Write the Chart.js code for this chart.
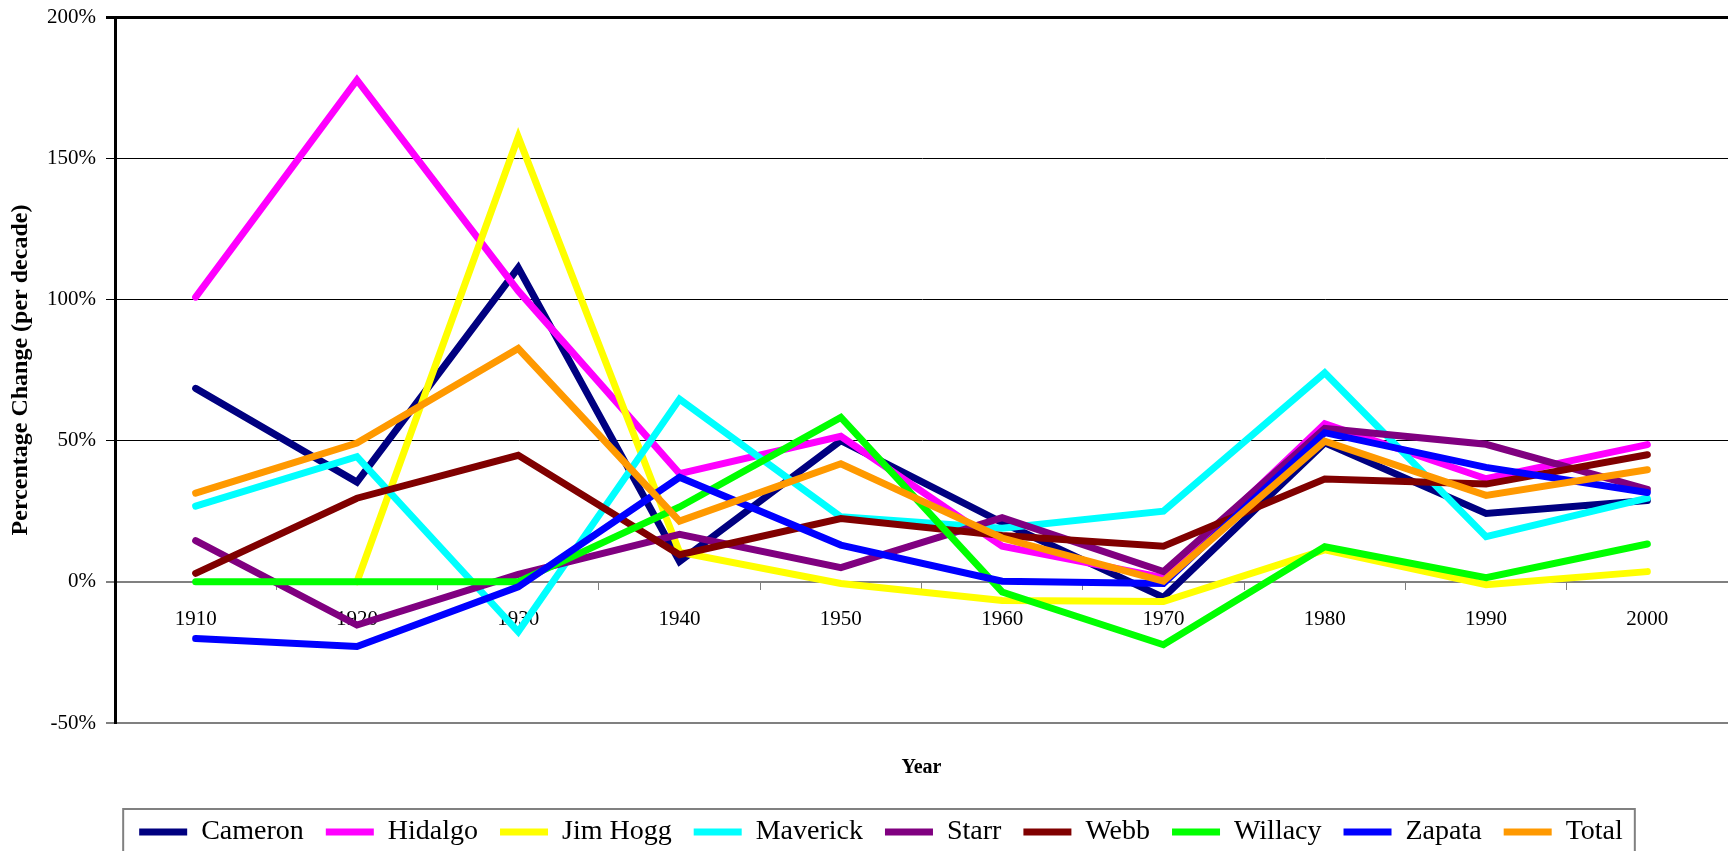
<!DOCTYPE html>
<html>
<head>
<meta charset="utf-8">
<script src="https://cdn.jsdelivr.net/npm/chart.js@4/dist/chart.umd.min.js"></script>
<style>
  html, body { margin: 0; padding: 0; background: #ffffff; overflow: hidden; }
  #wrap { width: 1728px; height: 851px; }
</style>
</head>
<body>
<div id="wrap"><canvas id="c" width="1728" height="851"></canvas></div>
<script>
// ---- data (percentage change per decade) ----
const years    = ['1910','1920','1930','1940','1950','1960','1970','1980','1990','2000'];
const cameron  = [68.5, 35.3, 111.2, 7.2, 50.0, 21.0, -5.5, 49.2, 24.2, 28.8];
const hidalgo  = [100.8, 177.7, 103.0, 38.3, 51.5, 12.6, 1.5, 56.0, 36.5, 48.6];
const jimHogg  = [null, 0.0, 157.5, 10.5, -0.6, -6.6, -7.0, 11.3, -1.0, 3.6];
const maverick = [26.8, 44.3, -17.7, 64.7, 23.0, 19.0, 25.0, 74.0, 16.0, 29.6];
const starr    = [14.6, -15.3, 2.6, 16.8, 5.0, 22.7, 3.6, 54.3, 48.7, 32.7];
const webb     = [3.0, 29.6, 44.8, 9.6, 22.4, 16.4, 12.6, 36.4, 34.6, 45.0];
const willacy  = [0.0, 0.0, 0.0, 26.5, 58.2, -3.6, -22.3, 12.4, 1.5, 13.4];
const zapata   = [-20.1, -22.9, -1.8, 37.0, 13.0, 0.2, -0.6, 52.8, 40.5, 31.6];
const total    = [31.4, 49.1, 82.6, 21.5, 41.8, 15.5, 0.2, 49.8, 30.6, 39.7];
const yTicks   = [-50, 0, 50, 100, 150, 200];

const seriesNames  = ['Cameron','Hidalgo','Jim Hogg','Maverick','Starr','Webb','Willacy','Zapata','Total'];
const seriesData   = [cameron, hidalgo, jimHogg, maverick, starr, webb, willacy, zapata, total];
const seriesColors = ['#000080','#FF00FF','#FFFF00','#00FFFF','#800080','#800000','#00FF00','#0000FF','#FF9900'];

const FONT = "'Liberation Serif', 'Times New Roman', serif";

const datasets = seriesNames.map((name, i) => ({
  label: name,
  data: seriesData[i],
  borderColor: seriesColors[i],
  backgroundColor: seriesColors[i],
  borderWidth: 7,
  borderCapStyle: 'round',
  borderJoinStyle: 'miter',
  pointRadius: 0,
  pointHoverRadius: 0,
  pointStyle: 'line',
  tension: 0,
  fill: false,
  spanGaps: false,
  order: seriesNames.length - 1 - i
}));

const legendFrame = {
  id: 'legendFrame',
  afterDraw(chart) {
    const lg = chart.legend;
    if (!lg || !lg.legendHitBoxes || !lg.legendHitBoxes.length) return;
    const hb = lg.legendHitBoxes;
    const first = hb[0], last = hb[hb.length - 1];
    const cy = first.top + first.height / 2;
    const left = first.left - 16;
    const right = last.left + last.width + 12;
    const top = cy - 23;
    const ctx = chart.ctx;
    ctx.save();
    ctx.strokeStyle = '#808080';
    ctx.lineWidth = 2;
    ctx.beginPath();
    ctx.moveTo(left, chart.height + 10);
    ctx.lineTo(left, top);
    ctx.lineTo(right, top);
    ctx.lineTo(right, chart.height + 10);
    ctx.stroke();
    ctx.restore();
  }
};

new Chart(document.getElementById('c'), {
  type: 'line',
  data: { labels: years, datasets },
  options: {
    responsive: false,
    devicePixelRatio: 1,
    animation: false,
    layout: { padding: { top: 17, left: 34, right: 0, bottom: -5 } },
    scales: {
      x: {
        type: 'category',
        position: { y: 0 },
        offset: true,
        grid: {
          display: true,
          drawOnChartArea: false,
          drawTicks: true,
          tickLength: 7,
          offset: true,
          color: '#808080',
          lineWidth: 1
        },
        border: { display: true, color: '#808080', width: 2 },
        ticks: {
          color: '#000000',
          font: { family: FONT, size: 21 },
          padding: 18,
          maxRotation: 0,
          autoSkip: false
        }
      },
      y: {
        position: 'left',
        min: -50,
        max: 200,
        afterBuildTicks(scale) { scale.ticks = yTicks.map(v => ({ value: v })); },
        afterFit(scale) { scale.width = 81; scale.paddingTop = 0; scale.paddingBottom = 0; },
        grid: {
          drawTicks: true,
          tickLength: 9,
          color: (c) => {
            const v = c.tick ? c.tick.value : null;
            return (v === 0 || v === -50) ? '#808080' : '#000000';
          },
          lineWidth: (c) => {
            const v = c.tick ? c.tick.value : null;
            if (v === 200) return 3;
            if (v === 0 || v === -50) return 2;
            return 1;
          }
        },
        border: { display: true, color: '#000000', width: 3 },
        ticks: {
          color: '#000000',
          font: { family: FONT, size: 21 },
          padding: 10,
          callback: (v) => v + '%'
        },
        title: {
          display: true,
          text: 'Percentage Change (per decade)',
          color: '#000000',
          font: { family: FONT, size: 24, weight: 'bold' },
          padding: { top: -28, bottom: 0 }
        }
      }
    },
    plugins: {
      tooltip: { enabled: false },
      title: {
        display: true,
        text: 'Year',
        position: 'bottom',
        fullSize: false,
        weight: 500,
        color: '#000000',
        font: { family: FONT, size: 20, weight: 'bold' },
        padding: { top: 33, bottom: 16 }
      },
      legend: {
        display: true,
        position: 'bottom',
        align: 'center',
        labels: {
          color: '#000000',
          font: { family: FONT, size: 28 },
          usePointStyle: true,
          pointStyle: 'line',
          pointStyleWidth: 48,
          padding: 22,
          sort: (a, b) => a.datasetIndex - b.datasetIndex
        }
      }
    }
  },
  plugins: [legendFrame]
});
</script>
</body>
</html>
